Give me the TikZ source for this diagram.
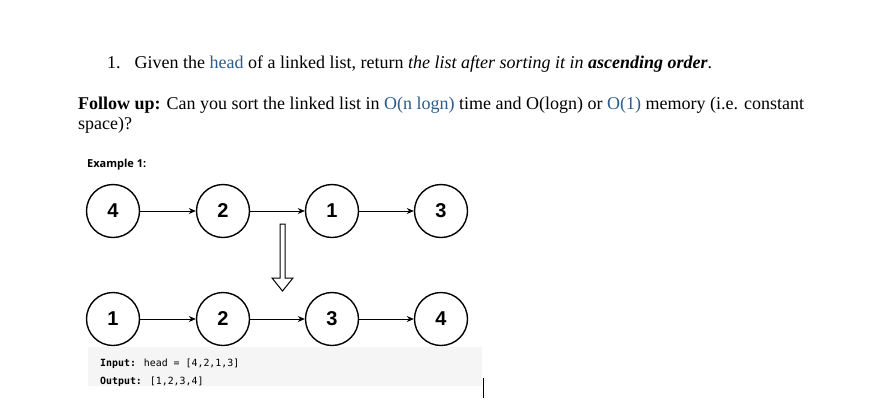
\documentclass[tikz,border=0pt]{standalone}
\usepackage{fontspec}
\setmainfont{Liberation Serif}
\newfontfamily\ex{Open Sans}
\newfontfamily\nd{Liberation Sans}
\newfontfamily\mono{DejaVu Sans Mono}
\definecolor{lk}{HTML}{2B5C8A}
\usetikzlibrary{arrows.meta}
\begin{document}
\begin{tikzpicture}[x=1pt,y=-1pt,
  cnode/.style={circle,draw,line width=1.4pt,minimum size=53pt,inner sep=0pt,font=\nd\bfseries\fontsize{20}{20}\selectfont},
  conn/.style={-{Stealth[length=7pt,width=6pt]},line width=0.9pt},
  body/.style={anchor=base west,inner sep=0pt,font=\fontsize{18}{21}\selectfont}]
\useasboundingbox (0,0) rectangle (883,400);
\node[body] (t1) at (107,68) {1.\hspace{14pt}Given the \textcolor{lk}{head} of a linked list, return \textit{the list after sorting it in \textbf{ascending order}}.};
\node[body] (t2) at (78,109) {\textbf{Follow up:} Can you sort the linked list in \textcolor{lk}{O(n logn)} time and O(logn) or \textcolor{lk}{O(1)} memory (i.e. constant};
\node[body] (t3) at (78,129) {space)?};
\node[anchor=base west,inner sep=0pt,font=\ex\bfseries\fontsize{11}{12}\selectfont] (ex) at (87,167) {Example 1:};
\foreach \n/\x/\v in {a/113/4,b/223/2,c/332/1,d/441/3}{\node[cnode] (\n) at (\x,211) {\v};}
\foreach \n/\x/\v in {e/113/1,f/223/2,g/332/3,h/441/4}{\node[cnode] (\n) at (\x,319) {\v};}
\draw[conn] (a)--(b); \draw[conn] (b)--(c); \draw[conn] (c)--(d);
\draw[conn] (e)--(f); \draw[conn] (f)--(g); \draw[conn] (g)--(h);
\draw[line width=1pt,line join=miter] (280,224)--(285,224)--(285,278)--(293,278)--(282.5,291)--(272,278)--(280,278)--cycle;
\fill[gray!8] (88,347) rectangle (482,386);
\node[anchor=base west,inner sep=0pt,font=\mono\fontsize{9.9}{11}\selectfont] (in) at (100,366) {\textbf{Input:} head = [4,2,1,3]};
\node[anchor=base west,inner sep=0pt,font=\mono\fontsize{9.9}{11}\selectfont] (out) at (100,384) {\textbf{Output:} [1,2,3,4]};
\draw[line width=0.8pt] (483,378)--(483,398);
\end{tikzpicture}
\end{document}
